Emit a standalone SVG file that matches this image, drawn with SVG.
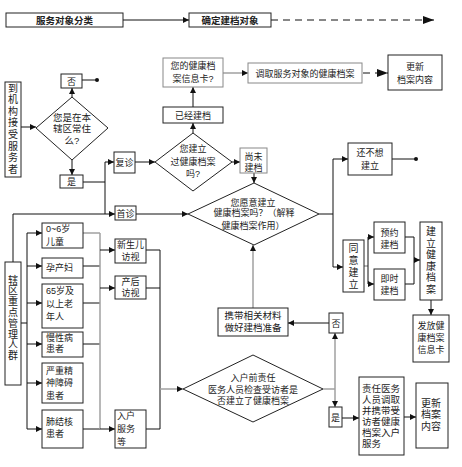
<svg xmlns="http://www.w3.org/2000/svg" width="462" height="467" viewBox="0 0 462 467">
<style>
rect,polygon{fill:#fff;stroke:#222;stroke-width:1}
rect.g{stroke:#888}
text{font-family:"Liberation Sans","Noto Sans CJK SC",sans-serif;font-size:9px;fill:#222;text-anchor:middle}
text.l{text-anchor:start}
text.v{font-size:10px}
text.m{font-size:9.5px}
text.h{font-size:9.5px;font-weight:bold}
.c path,.c line{fill:none;stroke:#111;stroke-width:1}
.c .gy{stroke:#a0a0a0;stroke-width:1.5}
.c .d{stroke-dasharray:7,5}
</style>
<defs>
<marker id="a" viewBox="0 0 6 6" refX="6" refY="3" markerWidth="6" markerHeight="6" markerUnits="userSpaceOnUse" orient="auto"><path d="M0,0L6,3L0,6z" fill="#111"/></marker>
<marker id="A" viewBox="0 0 11 8" refX="11" refY="4" markerWidth="11" markerHeight="8" markerUnits="userSpaceOnUse" orient="auto"><path d="M0,0L11,4L0,8z" fill="#111"/></marker>
</defs>
<rect x="0" y="0" width="462" height="467" style="fill:#fff;stroke:none"/>
<g class="c" id="connectors">
<line x1="123" y1="20" x2="189" y2="20" marker-end="url(#a)"/>
<line class="d" x1="271" y1="20" x2="434" y2="20" marker-end="url(#A)"/>
<line x1="21" y1="127" x2="36" y2="127" marker-end="url(#a)"/>
<line x1="72" y1="97" x2="72" y2="88" marker-end="url(#a)"/>
<line x1="82" y1="80" x2="97" y2="80"/>
<circle cx="97" cy="80" r="2" fill="#111"/>
<line x1="72" y1="160" x2="72" y2="175" marker-end="url(#a)"/>
<path d="M83,182H105"/>
<path d="M105,162V214"/>
<line x1="105" y1="162" x2="114" y2="162" marker-end="url(#a)"/>
<line x1="135" y1="162" x2="155" y2="162" marker-end="url(#a)"/>
<line x1="193" y1="133" x2="193" y2="123" marker-end="url(#a)"/>
<line x1="193" y1="107" x2="193" y2="87" marker-end="url(#a)"/>
<line class="gy" x1="223" y1="73" x2="248" y2="73" marker-end="url(#a)"/>
<line class="d" x1="363" y1="73" x2="388" y2="73" marker-end="url(#A)"/>
<line x1="232" y1="162" x2="240" y2="162" marker-end="url(#a)"/>
<line x1="254" y1="173" x2="254" y2="183" marker-end="url(#a)"/>
<path d="M13,262V214H115" marker-end="url(#a)"/>
<line x1="136" y1="214" x2="188" y2="214" marker-end="url(#a)"/>
<path d="M319,214H333"/>
<path d="M333,159V267H343" marker-end="url(#a)"/>
<line x1="333" y1="159" x2="348" y2="159" marker-end="url(#a)"/>
<line x1="392" y1="159" x2="416" y2="159"/>
<circle cx="416" cy="159" r="2" fill="#111"/>
<line class="gy" x1="364" y1="266" x2="368" y2="266"/>
<path d="M368,237V284"/>
<line x1="368" y1="237" x2="374" y2="237" marker-end="url(#a)"/>
<line x1="368" y1="284" x2="374" y2="284" marker-end="url(#a)"/>
<path d="M405,237H414V284H405"/>
<line x1="414" y1="260" x2="420" y2="260" marker-end="url(#a)"/>
<line x1="431" y1="300" x2="431" y2="315" marker-end="url(#a)"/>
<path d="M21,323H27"/>
<path d="M27,233V429"/>
<line x1="27" y1="233" x2="42" y2="233" marker-end="url(#a)"/>
<line x1="27" y1="266" x2="42" y2="266" marker-end="url(#a)"/>
<line x1="27" y1="303" x2="42" y2="303" marker-end="url(#a)"/>
<line x1="27" y1="344" x2="42" y2="344" marker-end="url(#a)"/>
<line x1="27" y1="383" x2="42" y2="383" marker-end="url(#a)"/>
<line x1="27" y1="429" x2="42" y2="429" marker-end="url(#a)"/>
<path class="gy" d="M83,233H100"/>
<path d="M83,266H100"/>
<path d="M83,303H100"/>
<path d="M83,344H100"/>
<path d="M83,429H100"/>
<path class="gy" d="M100,233V429"/>
<line x1="100" y1="250" x2="115" y2="250" marker-end="url(#a)"/>
<line x1="100" y1="288" x2="115" y2="288" marker-end="url(#a)"/>
<line x1="100" y1="429" x2="115" y2="429" marker-end="url(#a)"/>
<path d="M146,250H160V429H146"/>
<path d="M146,288H160"/>
<line class="gy" x1="160" y1="389" x2="183" y2="389" marker-end="url(#a)"/>
<path class="gy" d="M323,389H335"/>
<line class="gy" x1="335" y1="389" x2="335" y2="333" marker-end="url(#a)"/>
<line class="gy" x1="335" y1="389" x2="335" y2="407" marker-end="url(#a)"/>
<line x1="329" y1="323" x2="288" y2="323" marker-end="url(#a)"/>
<line class="gy" x1="253" y1="308" x2="253" y2="245" marker-end="url(#a)"/>
<line x1="342" y1="418" x2="359" y2="418" marker-end="url(#a)"/>
<line x1="404" y1="417" x2="416" y2="417" marker-end="url(#a)"/>
</g>
<g id="n-head1"><rect x="6" y="13" width="117" height="14"/><text class="h" x="64.5" y="23.5">服务对象分类</text></g>
<g id="n-head2"><rect x="189" y="13" width="82" height="14"/><text class="h" x="230" y="23.5">确定建档对象</text></g>
<g id="n-visitor"><rect x="5" y="82" width="16" height="95"/><text class="v" x="13" y="91.5">到<tspan x="13" dy="11.6">机</tspan><tspan x="13" dy="11.6">构</tspan><tspan x="13" dy="11.6">接</tspan><tspan x="13" dy="11.6">受</tspan><tspan x="13" dy="11.6">服</tspan><tspan x="13" dy="11.6">务</tspan><tspan x="13" dy="11.6">者</tspan></text></g>
<g id="n-resident"><polygon points="72,97 108,128 72,160 36,128"/><text class="m" x="72" y="120.5">您是在本</text><text class="m" x="72" y="131.5">辖区常住</text><text class="m" x="72" y="143.5">么?</text></g>
<g id="n-no1"><rect x="61" y="74" width="21" height="14"/><text x="71.5" y="84.5">否</text></g>
<g id="n-yes1"><rect x="60" y="175" width="23" height="13"/><text x="71.5" y="185">是</text></g>
<g id="n-revisit"><rect x="114" y="152" width="21" height="21"/><text x="124.5" y="166">复诊</text></g>
<g id="n-first"><rect x="115" y="206" width="21" height="14"/><text x="125.5" y="216.5">首诊</text></g>
<g id="n-built-q"><polygon points="193,133 232,162 193,191 155,162"/><text x="193" y="151.5">您建立</text><text x="193" y="164.5">过健康档案</text><text x="193" y="176.5">吗?</text></g>
<g id="n-built"><rect x="163" y="107" width="60" height="16"/><text x="193" y="118.5">已经建档</text></g>
<g id="n-card-q"><rect class="g" x="163" y="58" width="60" height="29"/><text x="193" y="68.5">您的健康档</text><text x="193" y="81.5">案信息卡?</text></g>
<g id="n-fetch"><rect class="g" x="248" y="63" width="114" height="20"/><text x="305" y="76.5">调取服务对象的健康档案</text></g>
<g id="n-update1"><rect x="388" y="55" width="54" height="35"/><text x="415" y="69.5">更新</text><text x="415" y="82.5">档案内容</text></g>
<g id="n-notbuilt"><rect class="g" x="240" y="148" width="27" height="25"/><text x="253.5" y="160">尚未</text><text x="253.5" y="171">建档</text></g>
<g id="n-willing"><polygon points="254,183 319,214 254,245 188,214"/><text x="253" y="205.5">您愿意建立</text><text x="254" y="216">健康档案吗？（解释</text><text x="253" y="228.5">健康档案作用）</text></g>
<g id="n-notyet"><rect x="348" y="143" width="44" height="32"/><text x="370" y="155.5">还不想</text><text x="370" y="168.5">建立</text></g>
<g id="n-agree"><rect x="343" y="240" width="21" height="52"/><text class="v" x="353.5" y="251.5">同<tspan x="353.5" dy="12">意</tspan><tspan x="353.5" dy="12">建</tspan><tspan x="353.5" dy="12">立</tspan></text></g>
<g id="n-appoint"><rect x="374" y="222" width="31" height="31"/><text x="389.5" y="235.5">预约</text><text x="389.5" y="247.5">建档</text></g>
<g id="n-instant"><rect x="374" y="269" width="31" height="31"/><text x="389.5" y="281.5">即时</text><text x="389.5" y="293.5">建档</text></g>
<g id="n-establish"><rect x="420" y="222" width="22" height="78"/><text class="v" x="431" y="235">建<tspan x="431" dy="11.5">立</tspan><tspan x="431" dy="11.5">健</tspan><tspan x="431" dy="11.5">康</tspan><tspan x="431" dy="11.5">档</tspan><tspan x="431" dy="11.5">案</tspan></text></g>
<g id="n-issue"><rect x="413" y="315" width="36" height="47"/><text x="431" y="328.5">发放健</text><text x="431" y="340.5">康档案</text><text x="431" y="353">信息卡</text></g>
<g id="n-key"><rect x="5" y="262" width="16" height="123"/><text class="v" x="13" y="283.5">辖<tspan x="13" dy="10.8">区</tspan><tspan x="13" dy="10.8">重</tspan><tspan x="13" dy="10.8">点</tspan><tspan x="13" dy="10.8">管</tspan><tspan x="13" dy="10.8">理</tspan><tspan x="13" dy="10.8">人</tspan><tspan x="13" dy="10.8">群</tspan></text></g>
<g id="n-child"><rect x="42" y="223" width="41" height="25"/><text class="l" x="46" y="231.5">0~6岁</text><text class="l" x="46" y="244.5">儿童</text></g>
<g id="n-preg"><rect x="42" y="258" width="41" height="20"/><text class="l" x="46" y="271">孕产妇</text></g>
<g id="n-elder"><rect x="42" y="284" width="41" height="44"/><text class="l" x="46" y="293.5">65岁及</text><text class="l" x="46" y="306.5">以上老</text><text class="l" x="46" y="319.5">年人</text></g>
<g id="n-chronic"><rect x="42" y="332" width="41" height="25"/><text class="l" x="46" y="340.5">慢性病</text><text class="l" x="46" y="352">患者</text></g>
<g id="n-mental"><rect x="42" y="363" width="41" height="40"/><text class="l" x="46" y="373.5">严重精</text><text class="l" x="46" y="386">神障碍</text><text class="l" x="46" y="398.5">患者</text></g>
<g id="n-tb"><rect x="42" y="410" width="41" height="38"/><text class="l" x="46" y="424.5">肺结核</text><text class="l" x="46" y="436.5">患者</text></g>
<g id="n-newborn"><rect x="115" y="239" width="31" height="24"/><text x="130.5" y="247.5">新生儿</text><text x="130.5" y="260">访视</text></g>
<g id="n-postnatal"><rect x="115" y="276" width="31" height="23"/><text x="130.5" y="284.5">产后</text><text x="130.5" y="296">访视</text></g>
<g id="n-home"><rect x="115" y="410" width="31" height="38"/><text class="l" x="117" y="418.5">入户</text><text class="l" x="117" y="431.5">服务</text><text class="l" x="117" y="444.5">等</text></g>
<g id="n-check"><polygon points="253,355 323,389 253,422 183,389"/><text x="253" y="380.5">入户前责任</text><text x="253" y="392.5">医务人员检查受访者是</text><text x="253" y="403.5">否建立了健康档案</text></g>
<g id="n-no2"><rect x="329" y="313" width="14" height="20"/><text x="336" y="326.5">否</text></g>
<g id="n-prepare"><rect x="218" y="308" width="70" height="28"/><text class="m" x="253" y="318.5">携带相关材料</text><text class="m" x="253" y="330.5">做好建档准备</text></g>
<g id="n-yes2"><rect x="329" y="407" width="13" height="20"/><text x="335.5" y="421">是</text></g>
<g id="n-duty"><rect x="359" y="377" width="45" height="78"/><text class="l m" x="362" y="391.5">责任医务</text><text class="l m" x="362" y="402.5">人员调取</text><text class="l m" x="362" y="413.5">并携带受</text><text class="l m" x="362" y="424.5">访者健康</text><text class="l m" x="362" y="435.5">档案入户</text><text class="l m" x="362" y="446.5">服务</text></g>
<g id="n-update2"><rect x="416" y="383" width="32" height="65"/><text class="l v" x="421" y="406.5">更新</text><text class="l v" x="421" y="418">档案</text><text class="l v" x="421" y="429.5">内容</text></g>
</svg>
